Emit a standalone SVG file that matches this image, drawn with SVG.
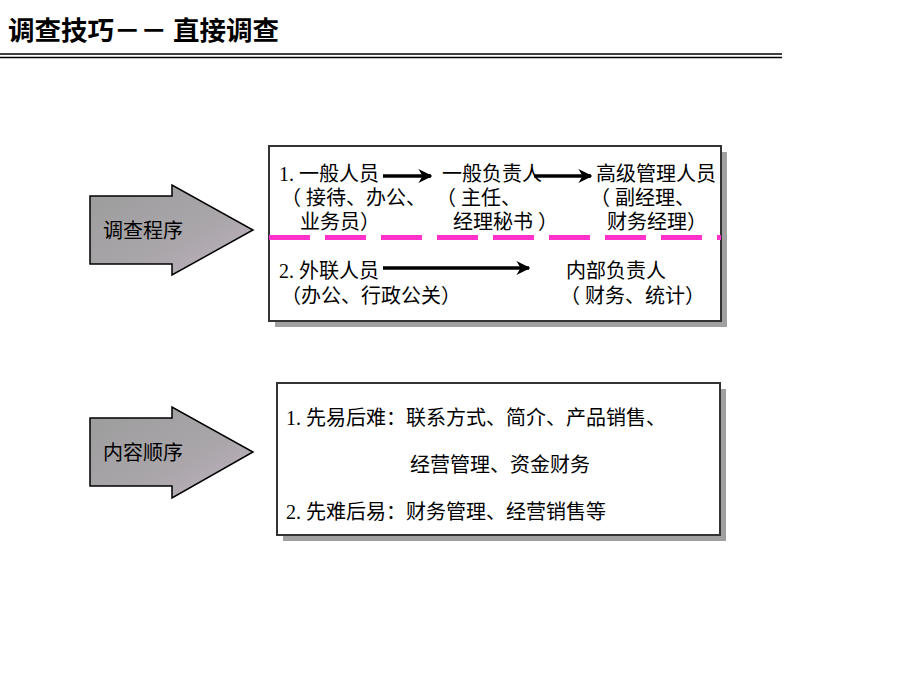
<svg xmlns="http://www.w3.org/2000/svg" width="920" height="690" viewBox="0 0 920 690">
<defs>
<linearGradient id="ag" x1="0" y1="0" x2="1" y2="1">
<stop offset="0" stop-color="#9c9c9c"/>
<stop offset="0.6" stop-color="#aaa6aa"/>
<stop offset="1" stop-color="#c4b4c4"/>
</linearGradient>
<marker id="ah" viewBox="0 0 10 10" refX="9" refY="5" markerWidth="4" markerHeight="4" orient="auto" markerUnits="strokeWidth">
<path d="M0,0 L10,5 L0,10 L3,5 Z" fill="#000"/>
</marker>
<style>
.t{font-family:"Liberation Serif","Noto Sans CJK SC",serif;font-size:20px;fill:#000}
.shadow{fill:#a0a0a0}
.box{fill:#fff;stroke:#333;stroke-width:2}
.arr{fill:url(#ag);stroke:#000;stroke-width:1.5}
.con{stroke:#000;stroke-width:3.5;fill:none;marker-end:url(#ah)}
</style>
</defs>
<rect width="920" height="690" fill="#fff"/>
<g id="title">
<text x="8" y="40" style="font-family:'Noto Sans CJK SC',sans-serif;font-size:26.5px;font-weight:bold">调查技巧－－ 直接调查</text>
<line x1="0" y1="54" x2="782" y2="54" stroke="#000" stroke-width="1.6"/>
<line x1="0" y1="57.5" x2="782" y2="57.5" stroke="#000" stroke-width="1.4"/>
</g>
<g id="arrow-procedure">
<path class="arr" d="M90,196 L172,196 L172,185 L253,230 L172,275 L172,264 L90,264 Z"/>
<text class="t" x="103" y="238">调查程序</text>
</g>
<g id="box-procedure">
<rect class="shadow" x="275" y="152" width="452" height="175"/>
<rect class="box" x="269" y="146" width="452" height="175"/>
<line x1="269" y1="237.5" x2="721" y2="237.5" stroke="#ff33cc" stroke-width="5" stroke-dasharray="41 15"/>
<text class="t" x="279" y="181">1. 一般人员</text>
<text class="t" x="442" y="181">一般负责人</text>
<text class="t" x="596" y="181">高级管理人员</text>
<text class="t" x="281" y="205">（ 接待、办公、</text>
<text class="t" x="436" y="205">（ 主任、</text>
<text class="t" x="590" y="205">（ 副经理、</text>
<text class="t" x="300" y="229">业务员）</text>
<text class="t" x="453" y="229">经理秘书 ）</text>
<text class="t" x="607" y="229">财务经理）</text>
<text class="t" x="279" y="278">2. 外联人员</text>
<text class="t" x="566" y="278">内部负责人</text>
<text class="t" x="281" y="303">（办公、行政公关）</text>
<text class="t" x="560" y="303">（ 财务、统计）</text>
</g>
<g id="arrow-content">
<path class="arr" d="M90,418 L172,418 L172,407 L253,452 L172,498 L172,486 L90,486 Z"/>
<text class="t" x="103" y="460">内容顺序</text>
</g>
<g id="box-content">
<rect class="shadow" x="283" y="389" width="443" height="152"/>
<rect class="box" x="277" y="383" width="443" height="152"/>
<text class="t" x="286" y="425">1. 先易后难：联系方式、简介、产品销售、</text>
<text class="t" x="410" y="472">经营管理、资金财务</text>
<text class="t" x="286" y="519">2. 先难后易：财务管理、经营销售等</text>
</g>
<g id="connectors">
<line class="con" x1="383" y1="176" x2="431" y2="176"/>
<line class="con" x1="534" y1="176" x2="591" y2="176"/>
<line class="con" x1="383" y1="268" x2="529" y2="268"/>
</g>
</svg>
